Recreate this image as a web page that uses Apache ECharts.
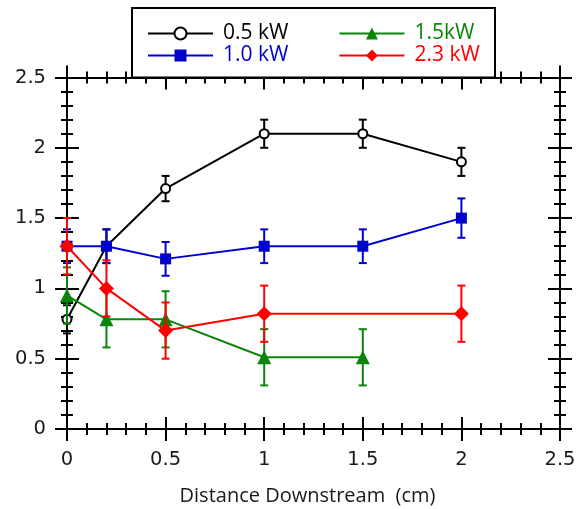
<!DOCTYPE html>
<html>
<head>
<meta charset="utf-8">
<script src="https://cdn.jsdelivr.net/npm/echarts@6/dist/echarts.min.js"></script>
<style>
  html, body { margin: 0; padding: 0; background: #fff; }
  #chart { width: 587px; height: 509px; }
</style>
</head>
<body>
<div id="chart"></div>
<script>
// Distance downstream (cm)
const distance = [0, 0.2, 0.5, 1, 1.5, 2];

// Measured values per power level (null = not measured)
const p05 = [0.78, 1.30, 1.71, 2.10, 2.10, 1.90];
const p05Err = [0.10, 0.12, 0.09, 0.10, 0.10, 0.10];

const p10 = [1.30, 1.30, 1.21, 1.30, 1.30, 1.50];
const p10Err = [0.12, 0.12, 0.12, 0.12, 0.12, 0.14];

const p15 = [0.95, 0.78, 0.78, 0.51, 0.51, null];
const p15Err = [0.20, 0.20, 0.20, 0.20, 0.20, null];

const p23 = [1.30, 1.00, 0.70, 0.82, null, 0.82];
const p23Err = [0.20, 0.20, 0.20, 0.20, null, 0.20];

const seriesNames = ['0.5 kW', '1.0 kW', '1.5kW', '2.3 kW'];
const xTicks = [0, 0.5, 1, 1.5, 2, 2.5];
const yTicks = [0, 0.5, 1, 1.5, 2, 2.5];

const TICK_FONT = 'DejaVu Sans';
const TEXT_FONT = 'Open Sans';
const BLACK = '#000000';
const BLUE = '#0000cc';
const GREEN = '#0a850a';
const RED = '#ff0000';

function pairs(vals) {
  const out = [];
  vals.forEach((v, i) => { if (v !== null) out.push([distance[i], v]); });
  return out;
}
function errRows(vals, errs) {
  const out = [];
  vals.forEach((v, i) => { if (v !== null) out.push([distance[i], v - errs[i], v + errs[i]]); });
  return out;
}

// Error bars: vertical stem with short caps, positioned through the grid's coordinate system
function errorBars(name, vals, errs, color, z) {
  return {
    type: 'custom',
    name: name + ' error',
    xAxisIndex: 0, yAxisIndex: 0,
    z: z,
    silent: true,
    data: errRows(vals, errs),
    renderItem: function (params, api) {
      const lo = api.coord([api.value(0), api.value(1)]);
      const hi = api.coord([api.value(0), api.value(2)]);
      const cap = 4;
      const style = { stroke: color, lineWidth: 2 };
      return {
        type: 'group',
        children: [
          { type: 'line', shape: { x1: lo[0], y1: lo[1], x2: hi[0], y2: hi[1] }, style: style },
          { type: 'line', shape: { x1: lo[0] - cap, y1: lo[1], x2: lo[0] + cap, y2: lo[1] }, style: style },
          { type: 'line', shape: { x1: hi[0] - cap, y1: hi[1], x2: hi[0] + cap, y2: hi[1] }, style: style }
        ]
      };
    }
  };
}

// Frame axis builder: each side gets an outward and an inward copy so ticks cross the frame line
function frameAxis(kind, position, inside, showLabels, ticks) {
  const ax = {
    type: 'value',
    position: position,
    min: ticks[0],
    max: ticks[ticks.length - 1],
    interval: ticks[1] - ticks[0],
    axisLine: { show: true, onZero: false, lineStyle: { color: BLACK, width: 2 } },
    axisTick: { show: true, inside: inside, length: 12, lineStyle: { color: BLACK, width: 2 } },
    minorTick: { show: true, splitNumber: 5, length: 6, lineStyle: { color: BLACK, width: 2 } },
    splitLine: { show: false },
    minorSplitLine: { show: false },
    axisLabel: {
      show: showLabels,
      color: '#1a1a1a',
      fontFamily: TICK_FONT,
      fontSize: 19.5,
      margin: kind === 'x' ? 21 : 21,
      formatter: function (v) { return String(v); }
    }
  };
  if (kind === 'x' && position === 'bottom' && !inside) {
    ax.name = 'Distance Downstream  (cm)';
    ax.nameLocation = 'middle';
    ax.nameGap = 57;
    ax.nameTextStyle = { color: '#1a1a1a', fontFamily: TEXT_FONT, fontSize: 20, padding: [0, 12, 0, 0] };
  }
  return ax;
}

const chart = echarts.init(document.getElementById('chart'), null, { renderer: 'canvas' });

const legendText = { fontFamily: TEXT_FONT, fontSize: 21, padding: [0, 0, 0, 5] };

chart.setOption({
  animation: false,
  backgroundColor: '#ffffff',
  grid: { left: 67, right: 27, top: 77.5, bottom: 80, containLabel: false, outerBoundsMode: 'none' },
  xAxis: [
    frameAxis('x', 'bottom', false, true, xTicks),
    frameAxis('x', 'bottom', true, false, xTicks),
    frameAxis('x', 'top', false, false, xTicks),
    frameAxis('x', 'top', true, false, xTicks)
  ],
  yAxis: [
    frameAxis('y', 'left', false, true, yTicks),
    frameAxis('y', 'left', true, false, yTicks),
    frameAxis('y', 'right', false, false, yTicks),
    frameAxis('y', 'right', true, false, yTicks)
  ],
  graphic: [{
    type: 'rect',
    z: 10,
    shape: { x: 132, y: 8, width: 363, height: 69.5 },
    style: { fill: '#ffffff', stroke: BLACK, lineWidth: 2 }
  }],
  legend: [
    {
      z: 20,
      left: 147, top: 23, padding: 0,
      itemWidth: 65, itemHeight: 15, itemGap: 50,
      data: [
        { name: seriesNames[0], textStyle: Object.assign({ color: BLACK }, legendText) },
        { name: seriesNames[2], textStyle: Object.assign({ color: GREEN }, legendText) }
      ],
      textStyle: legendText
    },
    {
      z: 20,
      left: 147, top: 45, padding: 0,
      itemWidth: 65, itemHeight: 15, itemGap: 50,
      data: [
        { name: seriesNames[1], textStyle: Object.assign({ color: BLUE }, legendText) },
        { name: seriesNames[3], textStyle: Object.assign({ color: RED }, legendText) }
      ],
      textStyle: legendText
    }
  ],
  series: [
    errorBars(seriesNames[0], p05, p05Err, BLACK, 3),
    {
      name: seriesNames[0], type: 'line', z: 4,
      data: pairs(p05),
      symbol: 'circle', symbolSize: 9,
      lineStyle: { color: BLACK, width: 2 },
      itemStyle: { color: '#ffffff', borderColor: BLACK, borderWidth: 2 }
    },
    errorBars(seriesNames[1], p10, p10Err, BLUE, 5),
    {
      name: seriesNames[1], type: 'line', z: 6,
      data: pairs(p10),
      symbol: 'rect', symbolSize: 11,
      lineStyle: { color: BLUE, width: 2 },
      itemStyle: { color: BLUE }
    },
    errorBars(seriesNames[2], p15, p15Err, GREEN, 7),
    {
      name: seriesNames[2], type: 'line', z: 8,
      data: pairs(p15),
      symbol: 'triangle', symbolSize: [14, 14],
      lineStyle: { color: GREEN, width: 2 },
      itemStyle: { color: GREEN }
    },
    errorBars(seriesNames[3], p23, p23Err, RED, 9),
    {
      name: seriesNames[3], type: 'line', z: 10,
      data: pairs(p23),
      symbol: 'diamond', symbolSize: [15, 15],
      lineStyle: { color: RED, width: 2 },
      itemStyle: { color: RED }
    }
  ]
});
</script>
</body>
</html>
